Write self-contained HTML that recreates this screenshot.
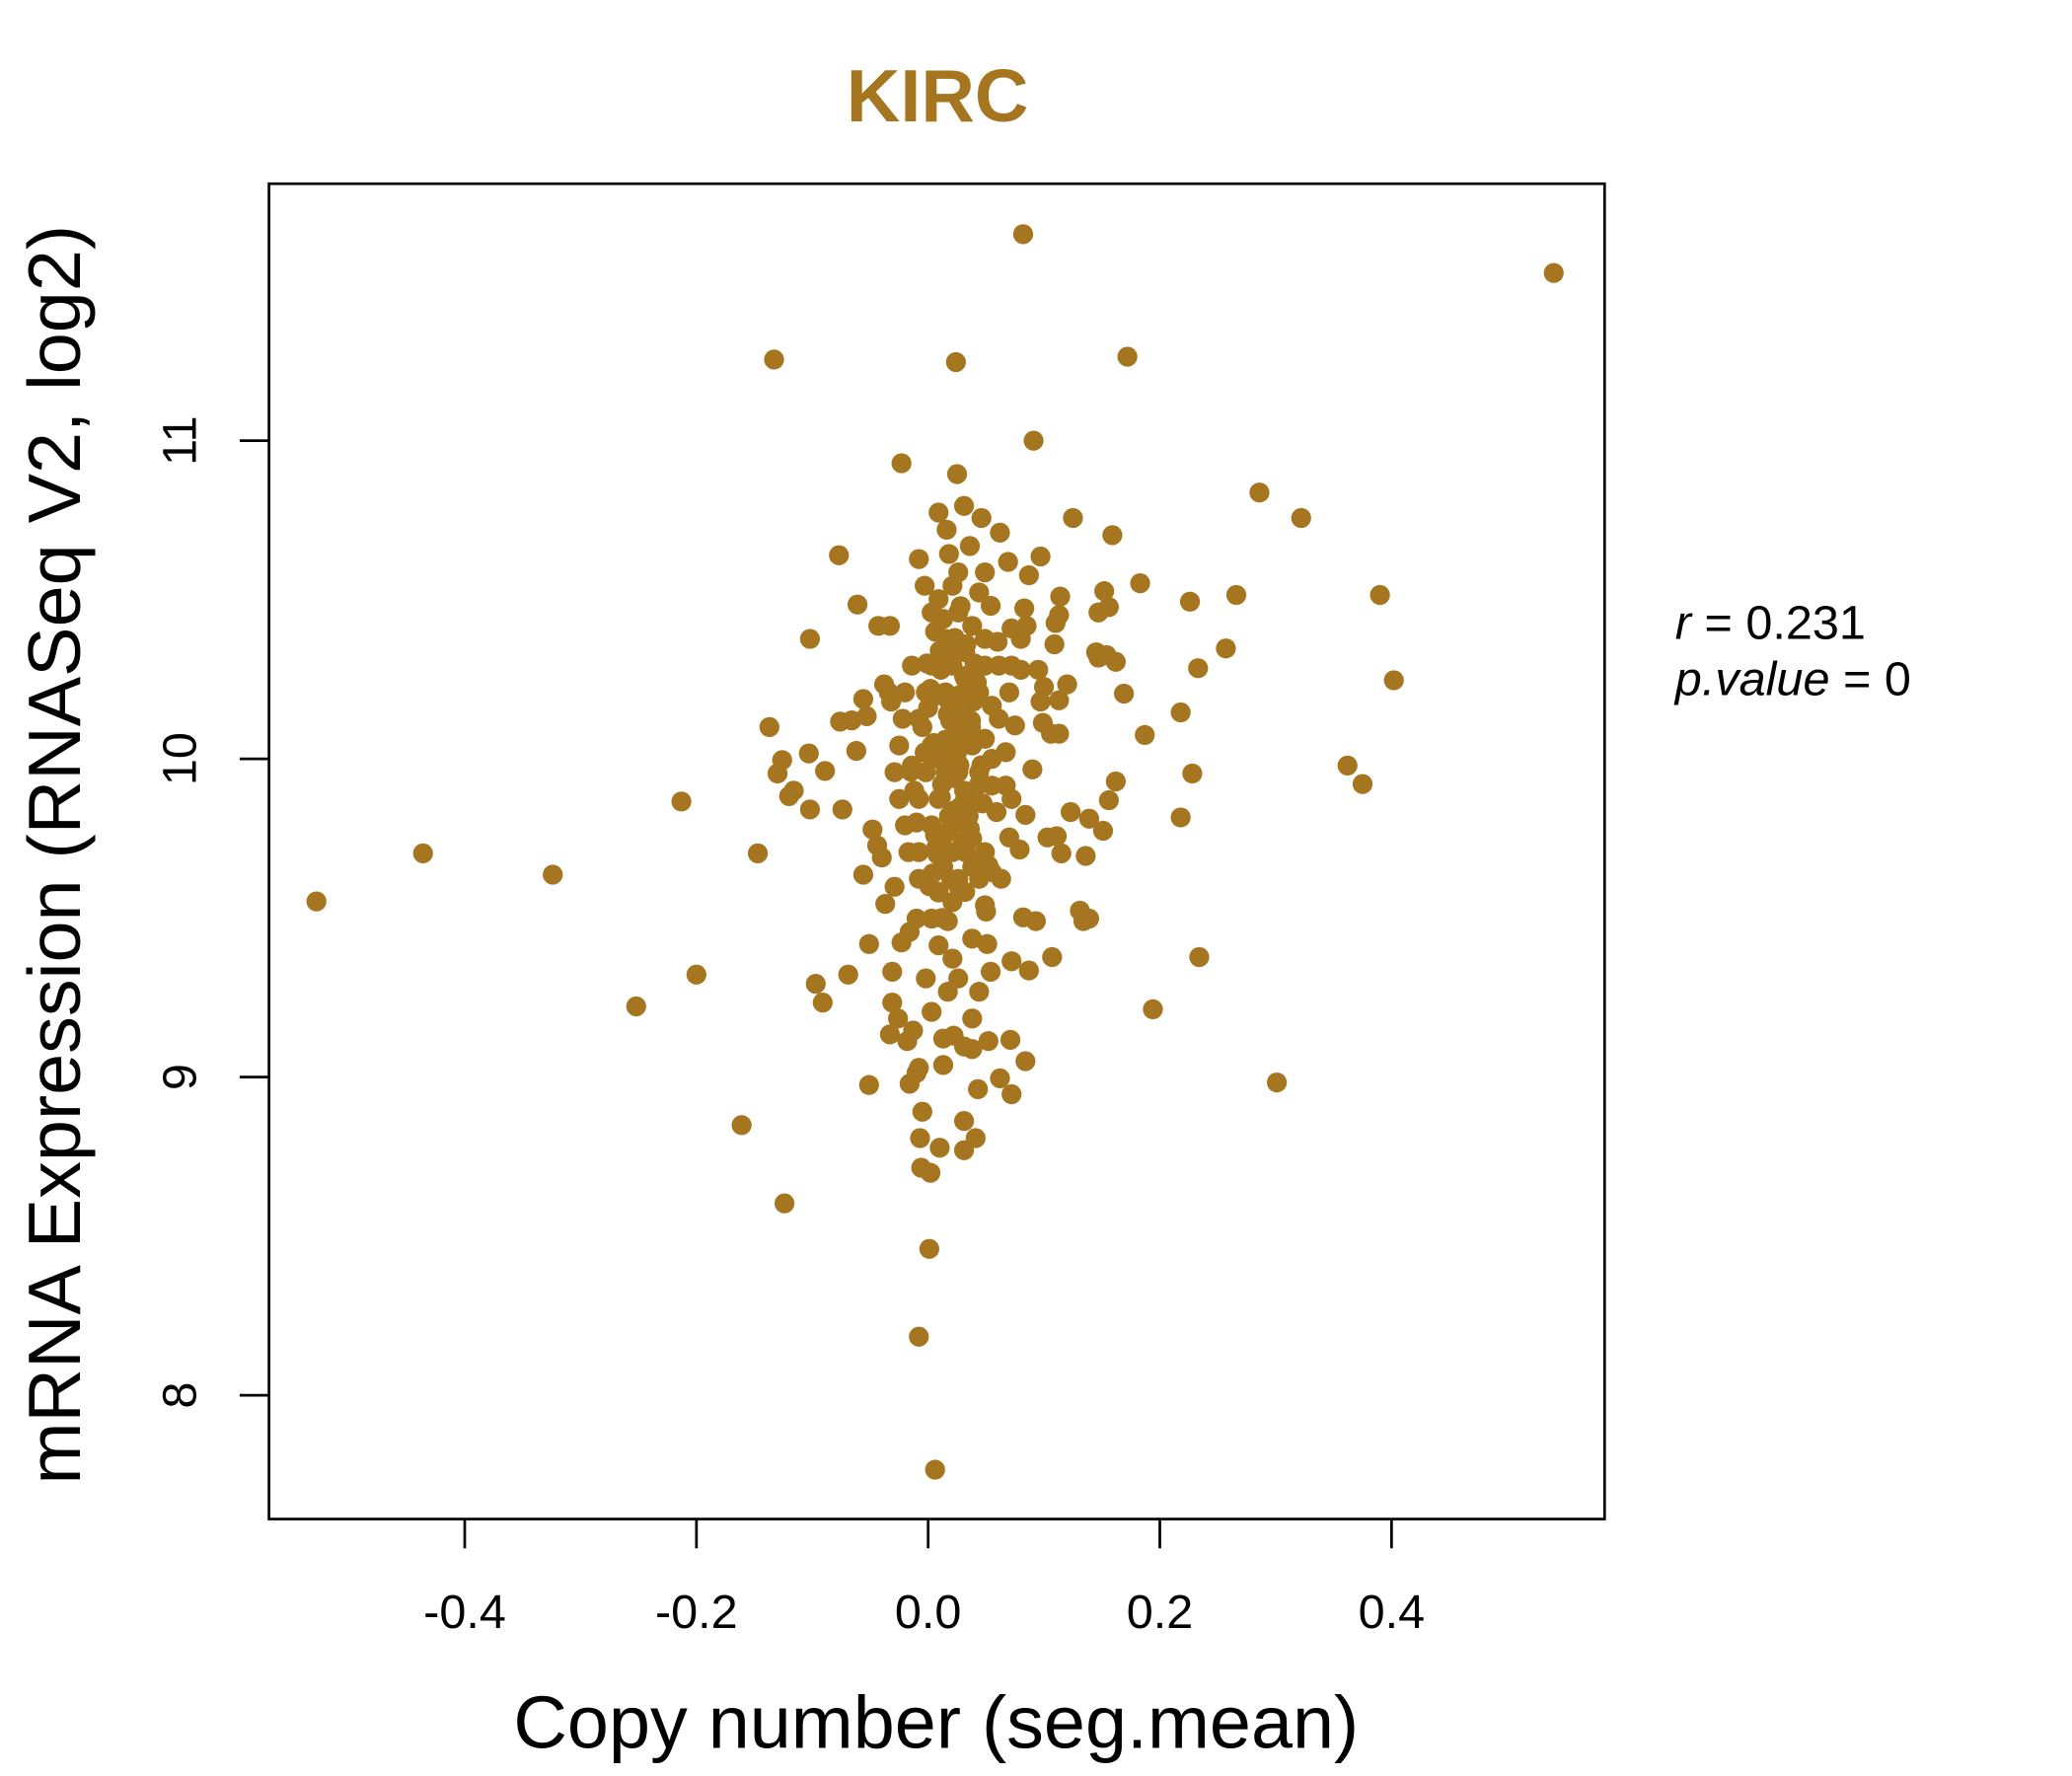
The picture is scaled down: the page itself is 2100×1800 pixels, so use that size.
<!DOCTYPE html>
<html><head><meta charset="utf-8"><style>
html,body{margin:0;padding:0;background:#fff;}
svg{display:block;font-family:"Liberation Sans",Arial,sans-serif;}
</style></head><body>
<svg id="chart" width="2100" height="1800" viewBox="0 0 1556 1334" preserveAspectRatio="none" xmlns="http://www.w3.org/2000/svg">
<rect width="1556" height="1334" fill="#fff"/>
<text x="704" y="91" text-anchor="middle" font-size="56" font-weight="bold" fill="#A5761F">KIRC</text>
<g id="points"></g>
<rect x="202" y="138" width="1003" height="1003" fill="none" stroke="#000" stroke-width="2"/>
<g id="xaxis"></g>
<g id="yaxis"></g>
<text x="703" y="1313" text-anchor="middle" font-size="56">Copy number (seg.mean)</text>
<text transform="translate(60,642) rotate(-90)" text-anchor="middle" font-size="56">mRNA Expression (RNASeq V2, log2)</text>
<text x="1258" y="480" font-size="36"><tspan font-style="italic">r</tspan> = 0.231</text>
<text x="1258" y="522" font-size="36"><tspan font-style="italic">p.value</tspan> = 0</text>
</svg>
<script>
const xTicks = [-0.4, -0.2, 0.0, 0.2, 0.4];
const xTickLabels = ["-0.4", "-0.2", "0.0", "0.2", "0.4"];
const yTicks = [8, 9, 10, 11];
const yTickLabels = ["8", "9", "10", "11"];
const copyNumber = [-0.528,-0.436,-0.324,-0.252,-0.213,-0.200,-0.161,-0.147,-0.137,-0.133,-0.124,-0.130,-0.126,-0.120,-0.116,-0.103,-0.102,-0.102,-0.097,-0.091,-0.089,-0.077,-0.074,-0.069,-0.076,-0.066,-0.061,-0.062,-0.056,-0.053,-0.056,-0.051,-0.051,-0.048,-0.044,-0.040,-0.043,-0.033,-0.038,-0.034,-0.037,-0.033,-0.031,-0.026,-0.031,-0.029,-0.032,-0.023,-0.023,-0.016,-0.018,-0.013,-0.016,-0.010,-0.008,-0.005,-0.007,-0.006,0.002,0.001,-0.008,0.006,0.010,0.041,0.031,0.031,0.013,0.013,0.022,0.031,0.038,0.043,0.052,0.062,0.072,0.071,0.084,0.024,0.082,0.091,0.172,0.025,0.031,0.009,0.046,0.062,0.125,0.159,0.183,0.152,0.156,0.147,0.286,0.322,0.226,0.266,0.390,0.402,0.257,0.233,0.218,0.187,0.169,0.120,0.113,0.162,0.156,0.151,0.139,0.123,0.218,0.228,0.362,0.375,0.194,0.234,0.301,0.540,0.131,0.134,0.139,0.107,0.093,0.082,0.087,0.054,0.072,0.051,0.038,0.136,0.115,0.103,0.111,0.079,0.070,0.106,0.113,0.099,0.097,0.109,0.113,0.110,0.114,0.097,0.087,0.083,0.069,0.147,0.154,0.145,0.162,0.085,0.080,0.095,0.072,0.060,0.100,0.080,0.090,0.084,
-0.008,-0.003,0.016,0.018,0.036,0.021,0.049,0.054,0.049,0.070,0.075,0.067,0.055,0.059,0.049,0.055,0.049,0.044,0.026,0.009,-0.008,-0.010,0.003,0.017,0.032,0.038,0.015,0.003,-0.014,-0.020,-0.022,-0.025,-0.029,-0.025,-0.020,-0.017,-0.008,0.003,0.017,0.032,0.044,0.049,0.038,0.026,0.021,0.032,0.015,0.009,0.021,0.032,0.044,0.055,0.067,0.072,0.061,0.003,-0.008,-0.002,0.015,0.026,0.038,0.049,0.055,0.021,0.009,0.032,0.003,0.009,0.026,0.044,0.032,-0.002,-0.014,0.061,0.072,-0.008,0.009,0.021,0.026,0.017,0.044,-0.002,0.003,0.038,0.052,0.063,
0.005,0.012,0.020,0.028,0.035,0.008,0.016,0.024,0.030,0.040,0.011,0.019,0.027,0.034,0.004,0.014,0.023,0.031,0.037,0.010,0.018,0.025,0.033,0.006,0.013,0.022,0.029,0.039,0.015,0.026,
-0.012,0.000,0.007,0.014,0.021,0.028,0.035,0.042,-0.005,0.004,0.011,0.019,0.026,0.033,0.040,0.047,-0.010,0.002,0.009,0.016,0.023,0.030,0.037,0.044,-0.003,0.006,0.013,0.020,0.027,0.034,0.041,0.050,-0.015,-0.001,0.008,0.017,0.024,0.031,0.038,0.046,0.001,0.010,0.018,0.025,0.032,0.039,0.012,0.020,0.028,0.036];
const expression = [9.552,9.703,9.636,9.222,9.866,9.322,8.849,9.703,10.100,11.255,8.603,9.954,9.996,9.883,9.900,10.017,10.377,9.841,9.293,9.234,9.962,10.640,9.841,9.322,10.117,10.121,10.485,10.025,10.188,10.134,9.636,9.418,8.975,9.778,9.728,9.690,10.418,10.418,10.234,10.209,9.544,9.134,9.234,9.184,9.331,9.598,10.180,10.929,9.423,9.456,9.113,9.146,8.979,9.013,9.029,8.891,8.808,8.715,8.699,8.460,8.184,7.766,8.778,8.808,8.770,8.862,9.038,9.121,9.130,9.096,9.088,8.962,9.113,8.996,8.946,9.117,9.050,11.247,11.649,11.000,11.264,10.895,10.795,10.774,10.757,10.711,10.757,10.703,10.552,10.527,10.477,10.460,10.837,10.757,10.494,10.515,10.515,10.247,10.347,10.285,10.146,10.075,10.205,10.234,10.184,9.929,9.870,9.774,9.812,9.833,9.816,9.954,9.979,9.921,9.213,9.377,8.983,11.527,9.523,9.490,9.498,9.377,9.490,9.502,9.335,9.331,9.364,9.418,9.435,9.695,9.703,9.753,9.757,9.715,9.753,10.079,10.079,10.113,10.180,10.360,10.452,10.427,10.510,10.636,10.577,10.473,10.619,10.318,10.326,10.335,10.305,10.418,10.377,10.280,10.410,10.368,10.226,10.280,9.967,9.824,
10.628,10.544,10.720,10.644,10.669,10.544,10.586,10.481,10.377,10.209,10.105,10.021,9.916,9.833,9.707,9.644,9.540,9.623,9.623,9.582,9.623,9.498,9.498,9.490,9.582,9.749,10.377,10.293,10.293,10.209,10.126,10.042,9.958,9.874,9.791,9.707,10.126,10.042,10.042,10.126,10.209,10.293,10.418,10.460,10.293,10.251,10.209,9.874,9.833,9.874,9.958,10.000,9.916,9.874,10.126,9.791,9.874,9.958,9.958,9.958,10.042,10.063,10.167,9.707,9.707,9.707,10.460,10.502,10.586,10.523,10.335,10.209,9.979,10.293,10.293,9.707,9.414,9.372,9.310,9.268,9.268,9.310,9.205,9.184,9.665,9.623,
10.05,9.92,10.15,9.85,10.25,10.20,9.95,10.08,9.80,10.30,9.88,10.12,9.98,10.22,10.00,9.76,10.35,9.90,10.10,9.70,10.18,10.02,9.84,10.40,9.66,9.94,10.14,9.86,10.06,9.60,
9.90,10.16,9.72,10.32,9.55,10.04,9.82,10.24,10.10,9.64,10.28,9.78,9.96,10.36,9.68,9.86,9.80,10.22,9.58,10.00,10.38,9.74,10.12,9.92,10.02,9.76,10.44,9.62,10.20,9.88,10.06,9.52,9.96,10.30,9.70,10.14,9.84,10.26,9.66,9.98,9.60,10.34,9.82,10.08,9.72,10.18,9.50,9.94,10.48,9.78];
const X0 = 697, XS = 870, Y0 = 570, YS = 239;
function xScale(v){ return X0 + v*XS; }
function yScale(v){ return Y0 - (v-10)*YS; }
const NS = "http://www.w3.org/2000/svg";
const pg = document.getElementById('points');
const n = Math.min(copyNumber.length, expression.length);
for (let i=0;i<n;i++){
  const c = document.createElementNS(NS,'circle');
  c.setAttribute('cx', xScale(copyNumber[i]));
  c.setAttribute('cy', yScale(expression[i]));
  c.setAttribute('r', 7.5);
  c.setAttribute('fill', '#A5761F');
  
  
  pg.appendChild(c);
}
const xg = document.getElementById('xaxis');
xTicks.forEach((t,i)=>{
  const l = document.createElementNS(NS,'line');
  l.setAttribute('x1', xScale(t)); l.setAttribute('x2', xScale(t));
  l.setAttribute('y1', 1141); l.setAttribute('y2', 1163);
  l.setAttribute('stroke', '#000'); l.setAttribute('stroke-width', 2);
  
  
  xg.appendChild(l);
  const tx = document.createElementNS(NS,'text');
  tx.setAttribute('x', xScale(t)); tx.setAttribute('y', 1223);
  tx.setAttribute('text-anchor', 'middle'); tx.setAttribute('font-size', 36);
  tx.textContent = xTickLabels[i];
  
  
  xg.appendChild(tx);
});
const yg = document.getElementById('yaxis');
yTicks.forEach((t,i)=>{
  const l = document.createElementNS(NS,'line');
  l.setAttribute('x1', 180); l.setAttribute('x2', 202);
  l.setAttribute('y1', yScale(t)); l.setAttribute('y2', yScale(t));
  l.setAttribute('stroke', '#000'); l.setAttribute('stroke-width', 2);
  
  
  yg.appendChild(l);
  const tx = document.createElementNS(NS,'text');
  tx.setAttribute('transform', 'translate(147,' + yScale(t) + ') rotate(-90)');
  tx.setAttribute('text-anchor', 'middle'); tx.setAttribute('font-size', 36);
  tx.textContent = yTickLabels[i];
  
  
  yg.appendChild(tx);
});
</script>
</body></html>
